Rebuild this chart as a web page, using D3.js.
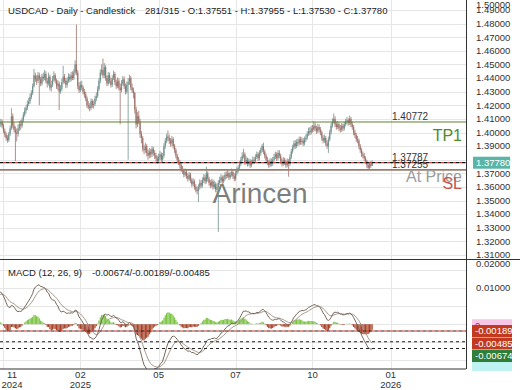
<!DOCTYPE html>
<html>
<head>
<meta charset="utf-8">
<script src="https://cdn.jsdelivr.net/npm/d3@7"></script>
<style>
body { margin: 0; background: #fff; }
svg { display: block; font-family: "Liberation Sans", Arial, sans-serif; }
</style>
</head>
<body>
<svg id="chart" width="520" height="390"></svg>
<script>
// USDCAD daily candles, mid Nov 2024 -> mid Dec 2025
var firstOpen = 1.4040;

var closes = [
1.4060,1.4075,1.4050,1.4010,1.3985,1.3960,1.3945,1.3990,1.4030,1.4120,
1.4050,1.4020,1.4000,1.3990,1.4030,1.4060,1.4050,1.4090,1.4130,1.4160,
1.4180,1.4210,1.4230,1.4260,1.4290,1.4340,1.4420,1.4390,1.4380,1.4420,
1.4390,1.4360,1.4410,1.4400,1.4430,1.4380,1.4360,1.4410,1.4330,1.4350,
1.4390,1.4420,1.4380,1.4340,1.4360,1.4300,1.4320,1.4370,1.4410,1.4380,
1.4350,1.4380,1.4410,1.4390,1.4420,1.4400,1.4440,1.4500,1.4440,1.4340,
1.4310,1.4350,1.4330,1.4300,1.4280,1.4250,1.4200,1.4190,1.4180,1.4230,
1.4200,1.4210,1.4250,1.4270,1.4320,1.4380,1.4440,1.4460,1.4420,1.4480,
1.4400,1.4360,1.4420,1.4380,1.4350,1.4400,1.4430,1.4370,1.4340,1.4380,
1.4330,1.4310,1.4360,1.4390,1.4340,1.4300,1.4350,1.4370,1.4400,1.4330,
1.4310,1.4290,1.4170,1.4060,1.4120,1.4080,1.3990,1.3960,1.3880,1.3870,
1.3900,1.3850,1.3830,1.3860,1.3840,1.3880,1.3850,1.3830,1.3810,1.3790,
1.3820,1.3840,1.3800,1.3830,1.3900,1.3940,1.3970,1.3960,1.3940,1.3920,
1.3950,1.3900,1.3870,1.3830,1.3800,1.3780,1.3760,1.3730,1.3720,1.3690,
1.3710,1.3680,1.3660,1.3690,1.3650,1.3620,1.3640,1.3600,1.3580,1.3570,
1.3600,1.3630,1.3610,1.3650,1.3670,1.3640,1.3700,1.3660,1.3630,1.3610,
1.3640,1.3600,1.3620,1.3580,1.3600,1.3630,1.3650,1.3670,1.3640,1.3660,
1.3690,1.3680,1.3700,1.3670,1.3690,1.3710,1.3680,1.3660,1.3700,1.3720,
1.3740,1.3770,1.3800,1.3830,1.3840,1.3780,1.3800,1.3770,1.3790,1.3760,
1.3780,1.3800,1.3790,1.3820,1.3840,1.3810,1.3850,1.3870,1.3900,1.3860,
1.3830,1.3800,1.3780,1.3760,1.3790,1.3770,1.3800,1.3820,1.3840,1.3810,
1.3850,1.3830,1.3790,1.3770,1.3800,1.3780,1.3760,1.3790,1.3770,1.3820,
1.3860,1.3890,1.3920,1.3900,1.3930,1.3920,1.3950,1.3930,1.3940,1.3920,
1.3950,1.3960,1.3990,1.4010,1.4000,1.4030,1.4020,1.4050,1.4030,1.4010,
1.4040,1.4020,1.4000,1.3960,1.3940,1.3960,1.3920,1.3900,1.3950,1.4000,
1.4050,1.4080,1.4100,1.4060,1.4040,1.4060,1.4030,1.4020,1.4050,1.4030,
1.4060,1.4080,1.4090,1.4070,1.4100,1.4060,1.4040,1.4000,1.3980,1.3950,
1.3940,1.3900,1.3870,1.3840,1.3830,1.3810,1.3790,1.3760,1.3740,1.3770,
1.37551,1.37780
];

var highs = [
1.4085,1.4100,1.4095,1.4065,1.4030,1.4000,1.3980,1.4005,1.4050,1.4178,
1.4140,1.4075,1.4045,1.4030,1.4060,1.4085,1.4090,1.4110,1.4150,1.4185,
1.4200,1.4235,1.4255,1.4285,1.4310,1.4360,1.4467,1.4440,1.4420,1.4445,
1.4440,1.4410,1.4430,1.4440,1.4460,1.4450,1.4400,1.4440,1.4425,1.4380,
1.4415,1.4450,1.4435,1.4395,1.4385,1.4375,1.4350,1.4395,1.4490,1.4430,
1.4400,1.4405,1.4435,1.4430,1.4445,1.4450,1.4465,1.4530,1.4793,1.4460,
1.4370,1.4375,1.4380,1.4345,1.4320,1.4300,1.4265,1.4230,1.4215,1.4250,
1.4245,1.4235,1.4270,1.4295,1.4340,1.4400,1.4465,1.4500,1.4543,1.4510,
1.4495,1.4420,1.4445,1.4440,1.4400,1.4420,1.4455,1.4445,1.4390,1.4405,
1.4400,1.4360,1.4385,1.4415,1.4410,1.4360,1.4375,1.4400,1.4425,1.4415,
1.4360,1.4330,1.4300,1.4190,1.4150,1.4160,1.4100,1.4010,1.3975,1.3910,
1.3925,1.3915,1.3875,1.3885,1.3880,1.3900,1.3895,1.3870,1.3850,1.3830,
1.3845,1.3865,1.3855,1.3850,1.3920,1.3960,1.3990,1.4015,1.3985,1.3960,
1.3975,1.3965,1.3915,1.3885,1.3845,1.3820,1.3800,1.3775,1.3755,1.3735,
1.3735,1.3725,1.3700,1.3710,1.3705,1.3665,1.3665,1.3655,1.3620,1.3605,
1.3620,1.3655,1.3650,1.3670,1.3695,1.3690,1.3750,1.3715,1.3675,1.3650,
1.3660,1.3655,1.3645,1.3635,1.3625,1.3650,1.3675,1.3695,1.3685,1.3685,
1.3710,1.3715,1.3725,1.3715,1.3710,1.3735,1.3725,1.3700,1.3720,1.3745,
1.3760,1.3790,1.3820,1.3855,1.3880,1.3855,1.3825,1.3815,1.3810,1.3805,
1.3800,1.3825,1.3820,1.3840,1.3860,1.3855,1.3870,1.3890,1.3915,1.3925,
1.3875,1.3845,1.3820,1.3800,1.3810,1.3810,1.3820,1.3845,1.3860,1.3855,
1.3870,1.3870,1.3845,1.3810,1.3820,1.3815,1.3800,1.3810,1.3805,1.3840,
1.3880,1.3910,1.3940,1.3945,1.3950,1.3955,1.3970,1.3970,1.3965,1.3960,
1.3970,1.3985,1.4010,1.4035,1.4040,1.4050,1.4055,1.4080,1.4075,1.4050,
1.4065,1.4060,1.4040,1.4015,1.3980,1.3985,1.3975,1.3940,1.3970,1.4020,
1.4070,1.4105,1.4140,1.4120,1.4080,1.4085,1.4075,1.4055,1.4070,1.4065,
1.4080,1.4100,1.4115,1.4105,1.4125,1.4115,1.4080,1.4055,1.4020,1.3995,
1.3975,1.3955,1.3915,1.3885,1.3860,1.3850,1.3825,1.3800,1.3780,1.3785,
1.3790,1.37955
];

var lows = [
1.4025,1.4040,1.4030,1.3995,1.3965,1.3940,1.3925,1.3930,1.3975,1.4020,
1.4030,1.4000,1.3790,1.3935,1.3970,1.4010,1.4020,1.4035,1.4075,1.4115,
1.4140,1.4165,1.4195,1.4210,1.4245,1.4275,1.4330,1.4370,1.4350,1.4365,
1.4200,1.4340,1.4345,1.4375,1.4385,1.4360,1.4330,1.4345,1.4310,1.4300,
1.4335,1.4375,1.4360,1.4320,1.4310,1.4165,1.4285,1.4305,1.4355,1.4360,
1.4325,1.4330,1.4365,1.4370,1.4375,1.4385,1.4385,1.4425,1.4420,1.4320,
1.4290,1.4295,1.4310,1.4280,1.4255,1.4230,1.4180,1.4170,1.4155,1.4165,
1.4180,1.4175,1.4195,1.4230,1.4255,1.4305,1.4360,1.4420,1.4400,1.4400,
1.4380,1.4340,1.4345,1.4360,1.4330,1.4335,1.4385,1.4350,1.4320,1.4325,
1.4310,1.4060,1.4295,1.4345,1.4320,1.4280,1.4285,1.3800,1.4350,1.4310,
1.4290,1.4250,1.4140,1.4030,1.4040,1.4060,1.3960,1.3920,1.3860,1.3840,
1.3850,1.3825,1.3800,1.3810,1.3815,1.3820,1.3830,1.3805,1.3785,1.3770,
1.3775,1.3800,1.3780,1.3785,1.3815,1.3880,1.3920,1.3935,1.3915,1.3895,
1.3900,1.3880,1.3850,1.3810,1.3780,1.3760,1.3735,1.3710,1.3695,1.3670,
1.3675,1.3660,1.3640,1.3645,1.3630,1.3600,1.3605,1.3580,1.3560,1.3545,
1.3490,1.3580,1.3590,1.3595,1.3630,1.3620,1.3625,1.3640,1.3610,1.3590,
1.3595,1.3580,1.3585,1.3560,1.3560,1.3270,1.3615,1.3630,1.3620,1.3625,
1.3645,1.3660,1.3665,1.3650,1.3655,1.3675,1.3660,1.3640,1.3645,1.3685,
1.3705,1.3725,1.3755,1.3785,1.3810,1.3760,1.3765,1.3750,1.3755,1.3740,
1.3745,1.3765,1.3770,1.3775,1.3805,1.3790,1.3795,1.3830,1.3855,1.3840,
1.3810,1.3780,1.3760,1.3740,1.3745,1.3750,1.3755,1.3785,1.3805,1.3790,
1.3795,1.3810,1.3770,1.3750,1.3755,1.3760,1.3740,1.3745,1.3675,1.3755,
1.3805,1.3845,1.3875,1.3880,1.3885,1.3900,1.3905,1.3910,1.3910,1.3900,
1.3905,1.3930,1.3945,1.3975,1.3980,1.3985,1.4000,1.4005,1.4010,1.3990,
1.3995,1.4000,1.3980,1.3940,1.3920,1.3925,1.3900,1.3880,1.3850,1.3935,
1.3985,1.4035,1.4065,1.4040,1.4020,1.4025,1.4010,1.4000,1.4005,1.4010,
1.4015,1.4045,1.4060,1.4050,1.4055,1.4040,1.4020,1.3980,1.3960,1.3930,
1.3920,1.3880,1.3850,1.3820,1.3810,1.3790,1.3770,1.3740,1.3725,1.3730,
1.3740,1.37530
];

var priceTicks = [1.31,1.32,1.33,1.34,1.35,1.36,1.37,1.38,1.39,1.40,1.41,1.42,1.43,1.44,1.45,1.46,1.47,1.48,1.49,1.50];
var macdTicks = [0.01, 0.02];
var macdGrid = [0.015, 0.01, 0.005, 0, -0.005, -0.01];
var monthTicks = [3, 61, 120, 178, 236, 295];
var monthLabels = [["11","2024"], ["02","2025"], ["05"], ["07"], ["10"], ["01","2026"]];

var lastPrice = 1.37780;
var tp1 = 1.40772, atPrice = 1.37787, sl = 1.37255;
// ema starting values, set so the line starts where the picture does
var macdSeed = { ema12: 1.3990, ema26: 1.3900, signal: 0.0080 };
var macdLast = { macd: -0.00674, hist: -0.00189, signal: -0.00485 };

var W = 520, H = 390;
var plotRight = 466;
var mainTop = 0, mainBottom = 259.5, macdTop = 259.5, macdBottom = 369;
var fs = "9.5px";

var svg = d3.select("#chart");

var x = d3.scaleLinear().domain([0, 351]).range([-0.5, 465]);
var y = d3.scaleLinear().domain([1.31, 1.49]).range([255, 10]);
var ym = d3.scaleLinear().domain([0, 0.01]).range([324.2, 288.1]);

var bars = closes.map(function(c, i) {
    return { i: i, o: i === 0 ? firstOpen : closes[i - 1], h: highs[i], l: lows[i], c: c };
});

// MACD (12, 26, 9)
var e12 = macdSeed.ema12, e26 = macdSeed.ema26, sig = macdSeed.signal;
var macd = closes.map(function(c, i) {
    e12 = e12 + (2 / 13) * (c - e12);
    e26 = e26 + (2 / 27) * (c - e26);
    var m = e12 - e26;
    sig = sig + (2 / 10) * (m - sig);
    return { i: i, m: m, s: sig, h: m - sig };
});

var defs = svg.append("defs");
defs.append("clipPath").attr("id", "clipMain").append("rect")
    .attr("x", 0).attr("y", mainTop).attr("width", plotRight).attr("height", mainBottom - mainTop);
defs.append("clipPath").attr("id", "clipMacd").append("rect")
    .attr("x", 0).attr("y", macdTop).attr("width", plotRight).attr("height", macdBottom - macdTop);

// grid
var grid = svg.append("g").attr("stroke", "#e6e6e6").attr("stroke-width", 1);
grid.selectAll(".hg").data(priceTicks.filter(function(d){ return y(d) > 1; })).enter().append("line")
    .attr("x1", 0).attr("x2", plotRight)
    .attr("y1", function(d){ return Math.round(y(d)) + 0.5; })
    .attr("y2", function(d){ return Math.round(y(d)) + 0.5; });
grid.selectAll(".mg").data(macdGrid).enter().append("line")
    .attr("x1", 0).attr("x2", plotRight)
    .attr("y1", function(d){ return Math.round(ym(d)) + 0.5; })
    .attr("y2", function(d){ return Math.round(ym(d)) + 0.5; });
grid.selectAll(".vg").data(monthTicks).enter().append("line")
    .attr("x1", function(d){ return Math.round(x(d)) + 0.5; })
    .attr("x2", function(d){ return Math.round(x(d)) + 0.5; })
    .attr("y1", 0).attr("y2", macdBottom);

// watermark
svg.append("text")
    .attr("x", 260).attr("y", 203)
    .attr("text-anchor", "middle")
    .attr("font-size", "28px")
    .attr("fill", "#5a5a5a")
    .attr("fill-opacity", 0.8)
    .text("Arincen");

// candles
var upColor = "#71908c", downColor = "#9e716b";
var cg = svg.append("g").attr("clip-path", "url(#clipMain)");
cg.selectAll(".wick").data(bars).enter().append("line")
    .attr("x1", function(d){ return x(d.i); })
    .attr("x2", function(d){ return x(d.i); })
    .attr("y1", function(d){ return y(Math.max(d.h, d.o, d.c)); })
    .attr("y2", function(d){ return y(Math.min(d.l, d.o, d.c)); })
    .attr("stroke", function(d){ return d.c >= d.o ? upColor : downColor; })
    .attr("stroke-width", 0.8);
cg.selectAll(".body").data(bars).enter().append("rect")
    .attr("x", function(d){ return x(d.i) - 0.6; })
    .attr("width", 1.2)
    .attr("y", function(d){ return y(Math.max(d.o, d.c)); })
    .attr("height", function(d){ return Math.max(1, Math.abs(y(d.o) - y(d.c))); })
    .attr("fill", function(d){ return d.c >= d.o ? upColor : downColor; });

// trade levels
var lv = svg.append("g").attr("clip-path", "url(#clipMain)");
lv.append("line").attr("x1", 0).attr("x2", plotRight)
    .attr("y1", y(tp1)).attr("y2", y(tp1))
    .attr("stroke", "#5f7f2f").attr("stroke-width", 1);
lv.append("line").attr("x1", 0).attr("x2", plotRight)
    .attr("y1", y(sl)).attr("y2", y(sl))
    .attr("stroke", "#9b7d6e").attr("stroke-width", 1.8);
lv.append("line").attr("x1", 0).attr("x2", plotRight)
    .attr("y1", y(lastPrice)).attr("y2", y(lastPrice))
    .attr("stroke", "#d03a3a").attr("stroke-width", 1.2)
    .attr("stroke-dasharray", "3,3").attr("stroke-dashoffset", 3);
lv.append("line").attr("x1", 0).attr("x2", plotRight)
    .attr("y1", y(atPrice)).attr("y2", y(atPrice))
    .attr("stroke", "#111").attr("stroke-width", 1.2)
    .attr("stroke-dasharray", "3,3");

var levelText = [
    { v: tp1, t: "1.40772" },
    { v: atPrice, t: "1.37787" },
    { v: sl, t: "1.37255" }
];
svg.selectAll(".lvtxt").data(levelText).enter().append("text")
    .attr("x", 392).attr("y", function(d){ return y(d.v) - 2; })
    .attr("font-size", "10px").attr("fill", "#333")
    .text(function(d){ return d.t; });

var tags = [
    { v: tp1, t: "TP1", c: "#4e8a2c" },
    { v: atPrice, t: "At Price", c: "#9c9c9c" },
    { v: sl, t: "SL", c: "#c6524e" }
];
svg.selectAll(".tag").data(tags).enter().append("text")
    .attr("x", 462).attr("y", function(d){ return y(d.v) + 19; })
    .attr("text-anchor", "end")
    .attr("font-size", "16px")
    .attr("fill", function(d){ return d.c; })
    .text(function(d){ return d.t; });

// MACD panel
var mg = svg.append("g").attr("clip-path", "url(#clipMacd)");
mg.selectAll(".hist").data(macd).enter().append("rect")
    .attr("x", function(d){ return x(d.i) - 0.6; })
    .attr("width", 1.2)
    .attr("y", function(d){ return Math.min(ym(0), ym(d.h)); })
    .attr("height", function(d){ return Math.abs(ym(d.h) - ym(0)); })
    .attr("fill", function(d){ return d.h >= 0 ? "#7cc443" : "#a9442c"; });

mg.append("path").datum(macd)
    .attr("fill", "none").attr("stroke", "#a3968a").attr("stroke-width", 1)
    .attr("d", d3.line().x(function(d){ return x(d.i); }).y(function(d){ return ym(d.s); }));
mg.append("path").datum(macd)
    .attr("fill", "none").attr("stroke", "#76665b").attr("stroke-width", 1)
    .attr("d", d3.line().x(function(d){ return x(d.i); }).y(function(d){ return ym(d.m); }));

var macdLevels = [
    { v: macdLast.hist, c: "#c0392b" },
    { v: macdLast.signal, c: "#222" },
    { v: macdLast.macd, c: "#222" }
];
mg.selectAll(".mlv").data(macdLevels).enter().append("line")
    .attr("x1", 0).attr("x2", plotRight)
    .attr("y1", function(d){ return ym(d.v); })
    .attr("y2", function(d){ return ym(d.v); })
    .attr("stroke", function(d){ return d.c; })
    .attr("stroke-width", 1.1)
    .attr("stroke-dasharray", "3,3");
mg.append("line").attr("x1", 0).attr("x2", plotRight)
    .attr("y1", ym(macdLast.hist)).attr("y2", ym(macdLast.hist))
    .attr("stroke", "#222").attr("stroke-width", 1.1)
    .attr("stroke-dasharray", "3,3").attr("stroke-dashoffset", 3);

// frame
var frame = svg.append("g").attr("stroke", "#333").attr("stroke-width", 1);
frame.append("line").attr("x1", plotRight + 0.5).attr("x2", plotRight + 0.5).attr("y1", 0).attr("y2", macdBottom);
frame.append("line").attr("x1", 0).attr("x2", W).attr("y1", mainBottom).attr("y2", mainBottom);
frame.append("line").attr("x1", 0).attr("x2", plotRight).attr("y1", macdBottom).attr("y2", macdBottom);

// right axis labels (clamped inside each panel)
var axisG = svg.append("g").attr("font-size", fs).attr("fill", "#333");
axisG.selectAll(".pl").data(priceTicks).enter().append("text")
    .attr("x", 476)
    .attr("y", function(d){ return Math.max(y(d), mainTop + 4.5); })
    .attr("dy", "0.35em")
    .text(function(d){ return d.toFixed(5); });
axisG.selectAll(".ml").data(macdTicks).enter().append("text")
    .attr("x", 476)
    .attr("y", function(d){ return Math.max(ym(d), macdTop + 4); })
    .attr("dy", "0.35em")
    .text(function(d){ return d.toFixed(5); });

// current price box
svg.append("rect").attr("x", 473).attr("y", y(lastPrice) - 6).attr("width", 37).attr("height", 12)
    .attr("fill", "#5bb5a6");
svg.append("text").attr("x", 476).attr("y", y(lastPrice)).attr("dy", "0.35em")
    .attr("font-size", fs).attr("fill", "#fff").text(lastPrice.toFixed(5));

// macd value boxes, pushed down so they do not overlap
var boxes = [
    { v: 0, t: "0", c: "#f7c6e6", tc: "#c23" },
    { v: macdLast.hist, t: "-0.00189", c: "#c2391f", tc: "#fff" },
    { v: macdLast.signal, t: "-0.00485", c: "#c2391f", tc: "#fff" },
    { v: macdLast.macd, t: "-0.00674", c: "#2f7d3a", tc: "#fff" },
    { v: macdLast.macd, t: "", c: "#bff3f3", tc: "#fff" }
];
var prev = -1e9;
boxes.forEach(function(b, k) {
    var yy = ym(b.v) + (k === 0 ? 1 : 0);
    if (k > 1) yy = Math.max(yy, prev + 12.5);
    if (k === 4) yy = prev + 9;
    b.y = yy;
    if (k > 0) prev = yy;
});
// pink "0" first, then cyan, then the real values on top
var order = [0, 4, 3, 2, 1];
var bg = svg.append("g");
order.forEach(function(k) {
    var b = boxes[k];
    bg.append("rect").attr("x", 472).attr("width", 40)
        .attr("y", b.y - 6).attr("height", 12).attr("fill", b.c);
    bg.append("text").attr("x", 475).attr("y", b.y).attr("dy", "0.35em")
        .attr("font-size", fs).attr("fill", b.tc).text(b.t);
});

// x axis
var xl = svg.append("g").attr("font-size", fs).attr("fill", "#333").attr("text-anchor", "middle");
monthTicks.forEach(function(t, k) {
    var lab = monthLabels[k];
    var cx = Math.max(x(t), 12);
    xl.append("text").attr("x", cx).attr("y", 378).text(lab[0]);
    if (lab[1]) xl.append("text").attr("x", cx).attr("y", 387.5).text(lab[1]);
});

// headers
svg.append("text").attr("x", 8).attr("y", 14).attr("font-size", fs).attr("fill", "#222")
    .text("USDCAD - Daily - Candlestick");
svg.append("text").attr("x", 145).attr("y", 14).attr("font-size", fs).attr("fill", "#222")
    .text("281/315 - O:1.37551 - H:1.37955 - L:1.37530 - C:1.37780");
svg.append("text").attr("x", 8).attr("y", 276).attr("font-size", fs).attr("fill", "#222")
    .text("MACD (12, 26, 9)");
svg.append("text").attr("x", 92).attr("y", 276).attr("font-size", fs).attr("fill", "#222")
    .text("-0.00674/-0.00189/-0.00485");
</script>
</body>
</html>
